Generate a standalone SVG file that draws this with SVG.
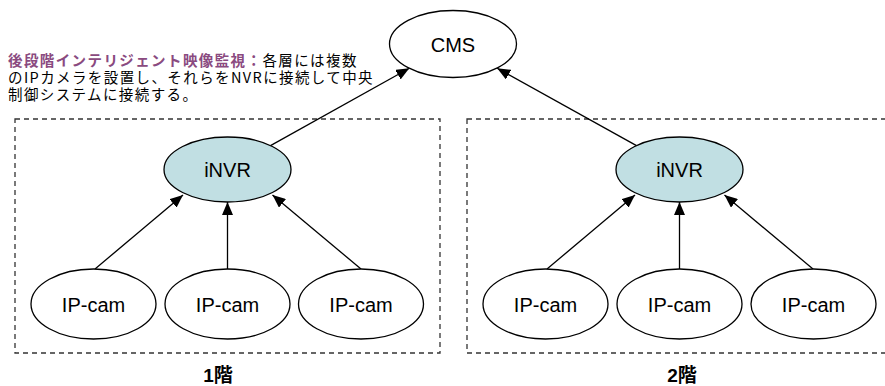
<svg xmlns="http://www.w3.org/2000/svg" width="885" height="386" viewBox="0 0 885 386">
  <style>
    .node { fill: #ffffff; stroke: #000000; stroke-width: 1.3; }
    .hub { fill: #c1dfe3; stroke: #000000; stroke-width: 1.3; }
    .label { font-family: "Liberation Sans", Arial, sans-serif; font-size: 20px; fill: #000000; text-anchor: middle; }
    .floor { fill: none; stroke: #333333; stroke-width: 1.3; stroke-dasharray: 5 4; }
    .floor-name { font-family: "Liberation Sans", "Noto Sans CJK JP", sans-serif; font-size: 19px; font-weight: bold; fill: #000000; text-anchor: middle; }
    .edge { stroke: #000000; stroke-width: 1.3; fill: none; marker-end: url(#arrow); }
    .note { font-family: "Noto Sans CJK JP", sans-serif; font-size: 14.5px; letter-spacing: 1.4px; fill: #000000; }
    .note-title { font-weight: bold; fill: #8a4a80; }
  </style>
  <defs>
    <marker id="arrow" viewBox="0 0 13 11" refX="13" refY="5.5" markerWidth="13" markerHeight="11" markerUnits="userSpaceOnUse" orient="auto">
      <path d="M0,0 L13,5.5 L0,11 Z" fill="#000000"/>
    </marker>
  </defs>

  <!-- description -->
  <g id="note">
    <text class="note" x="8" y="65.5"><tspan class="note-title">後段階インテリジェント映像監視：</tspan>各層には複数</text>
    <text class="note" x="8" y="82.5">のIPカメラを設置し、それらをNVRに接続して中央</text>
    <text class="note" x="8" y="99.5">制御システムに接続する。</text>
  </g>

  <!-- floor boundaries -->
  <g id="floor1">
    <rect class="floor" x="15" y="119" width="425" height="234"/>
    <text class="floor-name" x="218" y="381.5">1階</text>
  </g>
  <g id="floor2">
    <rect class="floor" x="467" y="119" width="430" height="234"/>
    <text class="floor-name" x="682" y="381.5">2階</text>
  </g>

  <!-- connectors -->
  <g id="edges">
    <line class="edge" x1="270.5" y1="145.6" x2="409.3" y2="68.3"/>
    <line class="edge" x1="636.5" y1="145.6" x2="497.2" y2="68.3"/>
    <line class="edge" x1="95" y1="269" x2="183" y2="195"/>
    <line class="edge" x1="227.5" y1="269" x2="227.5" y2="202"/>
    <line class="edge" x1="361" y1="269" x2="272.5" y2="195"/>
    <line class="edge" x1="547" y1="269" x2="635" y2="195"/>
    <line class="edge" x1="679.5" y1="269" x2="679.5" y2="202"/>
    <line class="edge" x1="813" y1="269" x2="724.5" y2="195"/>
  </g>

  <!-- central management -->
  <g id="cms">
    <ellipse class="node" cx="453" cy="44" rx="63.5" ry="33.5"/>
    <text class="label" x="453" y="51.5">CMS</text>
  </g>

  <!-- floor 1 -->
  <g id="invr1">
    <ellipse class="hub" cx="227.5" cy="169.5" rx="63.5" ry="32.5"/>
    <text class="label" x="227.5" y="177">iNVR</text>
  </g>
  <g id="cam1a">
    <ellipse class="node" cx="93.5" cy="304" rx="62.5" ry="35"/>
    <text class="label" x="93.5" y="311.5">IP-cam</text>
  </g>
  <g id="cam1b">
    <ellipse class="node" cx="227.5" cy="304" rx="62.5" ry="35"/>
    <text class="label" x="227.5" y="311.5">IP-cam</text>
  </g>
  <g id="cam1c">
    <ellipse class="node" cx="361" cy="304" rx="62.5" ry="35"/>
    <text class="label" x="361" y="311.5">IP-cam</text>
  </g>

  <!-- floor 2 -->
  <g id="invr2">
    <ellipse class="hub" cx="679.5" cy="169.5" rx="63.5" ry="32.5"/>
    <text class="label" x="679.5" y="177">iNVR</text>
  </g>
  <g id="cam2a">
    <ellipse class="node" cx="545.5" cy="304" rx="62.5" ry="35"/>
    <text class="label" x="545.5" y="311.5">IP-cam</text>
  </g>
  <g id="cam2b">
    <ellipse class="node" cx="679.5" cy="304" rx="62.5" ry="35"/>
    <text class="label" x="679.5" y="311.5">IP-cam</text>
  </g>
  <g id="cam2c">
    <ellipse class="node" cx="813.5" cy="304" rx="62.5" ry="35"/>
    <text class="label" x="813.5" y="311.5">IP-cam</text>
  </g>
</svg>
